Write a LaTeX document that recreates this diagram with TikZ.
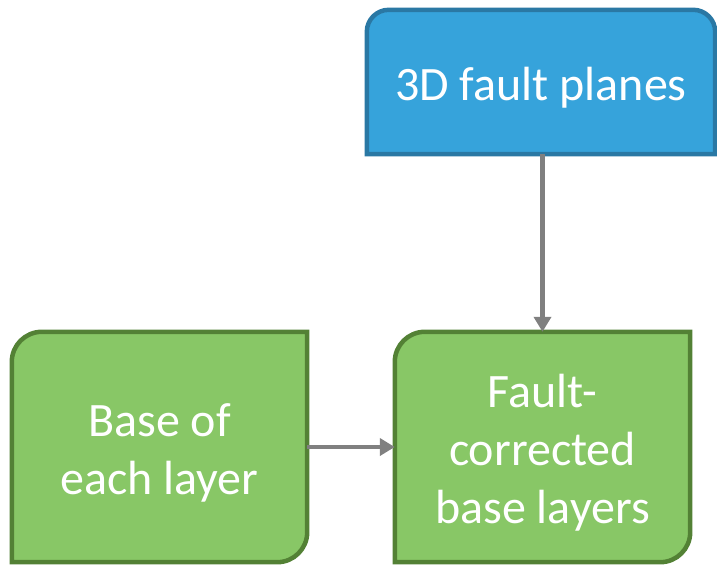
\documentclass[tikz,border=0pt]{standalone}
\usepackage{fontspec}
\setmainfont{Carlito}
\usetikzlibrary{positioning,arrows.meta,backgrounds}

\definecolor{faultblue}{HTML}{36A3DB}
\definecolor{faultblueline}{HTML}{2A78A4}
\definecolor{layergreen}{HTML}{88C766}
\definecolor{layergreenline}{HTML}{538135}
\definecolor{linkgray}{HTML}{808080}

\tikzset{
  box/.style={minimum width=295pt, minimum height=230pt, inner sep=0pt},
  boxtext/.style={align=center, text=white, yshift=-6pt,
    font=\fontsize{48}{58}\selectfont},
  link/.style={draw=linkgray, line width=4.5pt, -{Triangle[length=15pt,width=17pt]}},
}

\begin{document}
\begin{tikzpicture}[x=1pt,y=-1pt]
  \useasboundingbox (0,0) rectangle (717,566);
  \node [box, minimum width=348pt, minimum height=144pt,
    label={[boxtext]center:3D fault planes}] (planes) at (541,82) {};
  \node [box, label={[boxtext]center:Base of\\each layer}] (base) at (159.5,447) {};
  \node [box, label={[boxtext]center:Fault-\\corrected\\base layers}] (corrected) at (542.5,447) {};

  % box outlines behind the text
  \begin{scope}[on background layer]
    \draw [fill=faultblue, draw=faultblueline, line width=4.5pt]
      (planes.south west) [rounded corners=22pt] -- (planes.north west)
      -- (planes.north east) [sharp corners] -- (planes.south east) -- cycle;
    \draw [fill=layergreen, draw=layergreenline, line width=4.5pt]
      (base.south west) [rounded corners=30pt] -- (base.north west)
      [sharp corners] -- (base.north east) [rounded corners=30pt] -- (base.south east)
      [sharp corners] -- cycle;
    \draw [fill=layergreen, draw=layergreenline, line width=4.5pt]
      (corrected.south west) [rounded corners=30pt] -- (corrected.north west)
      [sharp corners] -- (corrected.north east) [rounded corners=30pt] -- (corrected.south east)
      [sharp corners] -- cycle;
  \end{scope}

  \draw [link] (planes.south -| corrected.north) -- (corrected.north);
  \draw [link] (base) -- (corrected);
\end{tikzpicture}
\end{document}
